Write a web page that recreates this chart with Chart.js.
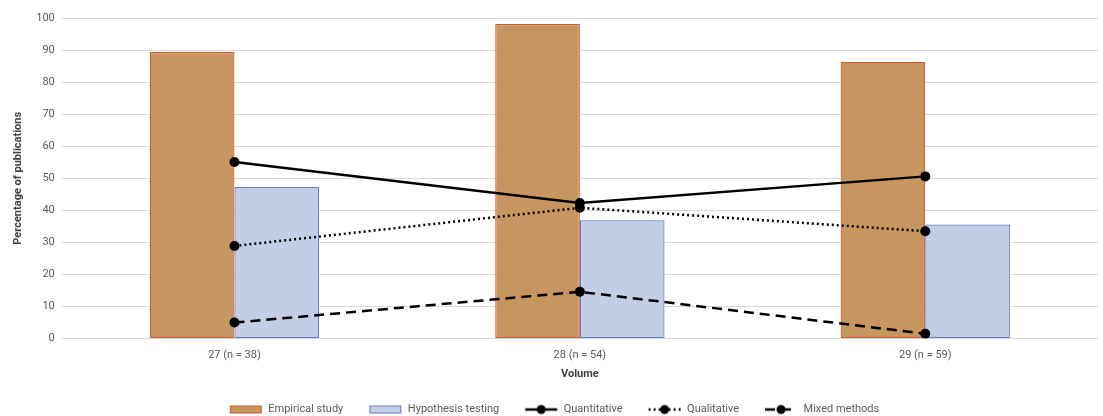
<!DOCTYPE html>
<html>
<head>
<meta charset="utf-8">
<script src="https://cdn.jsdelivr.net/npm/chart.js@4/dist/chart.umd.min.js"></script>
<style>
  html, body { margin: 0; padding: 0; background: #fff; }
  #wrap { width: 1103px; height: 416px; }
</style>
</head>
<body>
<div id="wrap"><canvas id="chart"></canvas></div>
<script>
const volumes = ['27 (n = 38)', '28 (n = 54)', '29 (n = 59)'];
const empirical = [89.4, 98.1, 86.3];
const hypothesis = [47.3, 36.9, 35.6];
const quantitative = [55.1, 42.3, 50.6];
const qualitative = [28.9, 40.8, 33.5];
const mixedMethods = [5.0, 14.6, 1.5];

const textGray = '#595959';
const fontFamily = 'Roboto, "Liberation Sans", sans-serif';

// little legend swatches, drawn on canvases and handed over as point styles
function swatchBox(fill, stroke) {
    const c = document.createElement('canvas');
    c.width = 34; c.height = 12;
    const ctx = c.getContext('2d');
    ctx.fillStyle = fill;
    ctx.fillRect(1, 2, 32, 8);
    ctx.strokeStyle = stroke;
    ctx.lineWidth = 1;
    ctx.strokeRect(1.5, 2.5, 31, 7);
    return c;
}

function swatchLine(dash) {
    const c = document.createElement('canvas');
    c.width = 34; c.height = 12;
    const ctx = c.getContext('2d');
    ctx.strokeStyle = '#000';
    ctx.lineWidth = 2.5;
    ctx.setLineDash(dash);
    ctx.beginPath();
    ctx.moveTo(1, 6);
    ctx.lineTo(33, 6);
    ctx.stroke();
    ctx.setLineDash([]);
    ctx.fillStyle = '#000';
    ctx.beginPath();
    ctx.arc(17, 6, 4.5, 0, Math.PI * 2);
    ctx.fill();
    return c;
}

function lineSet(label, data, dash) {
    return {
        type: 'line',
        label,
        data,
        borderColor: '#000',
        backgroundColor: '#000',
        borderWidth: 2.5,
        borderDash: dash,
        pointRadius: 5,
        pointHoverRadius: 5,
        pointBackgroundColor: '#000',
        pointBorderWidth: 0,
        tension: 0,
        order: 1,
        swatch: swatchLine(dash),
    };
}

const datasets = [
    {
        label: 'Empirical study',
        data: empirical,
        backgroundColor: 'rgb(199,149,95)',
        borderColor: 'rgb(204,90,50)',
        borderWidth: 1.2,
        borderSkipped: false,
        categoryPercentage: 0.49,
        barPercentage: 1,
        order: 2,
        swatch: swatchBox('rgb(199,149,95)', 'rgb(204,90,50)'),
    },
    {
        label: 'Hypothesis testing',
        data: hypothesis,
        backgroundColor: 'rgb(194,205,230)',
        borderColor: 'rgb(100,122,196)',
        borderWidth: 1.2,
        borderSkipped: false,
        categoryPercentage: 0.49,
        barPercentage: 1,
        order: 2,
        swatch: swatchBox('rgb(194,205,230)', 'rgb(100,122,196)'),
    },
    lineSet('Quantitative', quantitative, []),
    lineSet('Qualitative', qualitative, [2, 3]),
    lineSet('Mixed methods', mixedMethods, [10, 6]),
];

new Chart(document.getElementById('chart'), {
    type: 'bar',
    data: { labels: volumes, datasets },
    options: {
        responsive: true,
        maintainAspectRatio: false,
        animation: false,
        layout: { padding: { left: 10, right: 5, top: 18, bottom: -9 } },
        plugins: {
            tooltip: { enabled: false },
            legend: {
                position: 'bottom',
                labels: {
                    usePointStyle: true,
                    pointStyleWidth: 34,
                    boxHeight: 11,
                    padding: 25,
                    color: textGray,
                    font: { family: fontFamily, size: 11 },
                    generateLabels: (chart) => chart.data.datasets.map((ds, i) => ({
                        text: ds.label,
                        pointStyle: ds.swatch,
                        fillStyle: ds.backgroundColor,
                        strokeStyle: ds.borderColor,
                        lineWidth: 0,
                        fontColor: textGray,
                        datasetIndex: i,
                        hidden: false,
                    })),
                },
            },
        },
        scales: {
            x: {
                grid: { display: false },
                border: { display: false },
                ticks: { color: textGray, font: { family: fontFamily, size: 11 }, padding: 2 },
                title: {
                    display: true,
                    text: 'Volume',
                    color: '#404040',
                    font: { family: fontFamily, size: 11, weight: 'bold' },
                    padding: { top: 4, bottom: -2 },
                },
            },
            y: {
                min: 0,
                max: 100,
                ticks: { stepSize: 10, color: textGray, font: { family: fontFamily, size: 11 }, padding: 7 },
                grid: { color: '#d9d9d9', lineWidth: 1, drawTicks: false },
                border: { display: false },
                title: {
                    display: true,
                    text: 'Percentage of publications',
                    color: '#404040',
                    font: { family: fontFamily, size: 11, weight: 'bold' },
                    padding: { top: 2, bottom: 4 },
                },
            },
        },
    },
});
</script>
</body>
</html>
